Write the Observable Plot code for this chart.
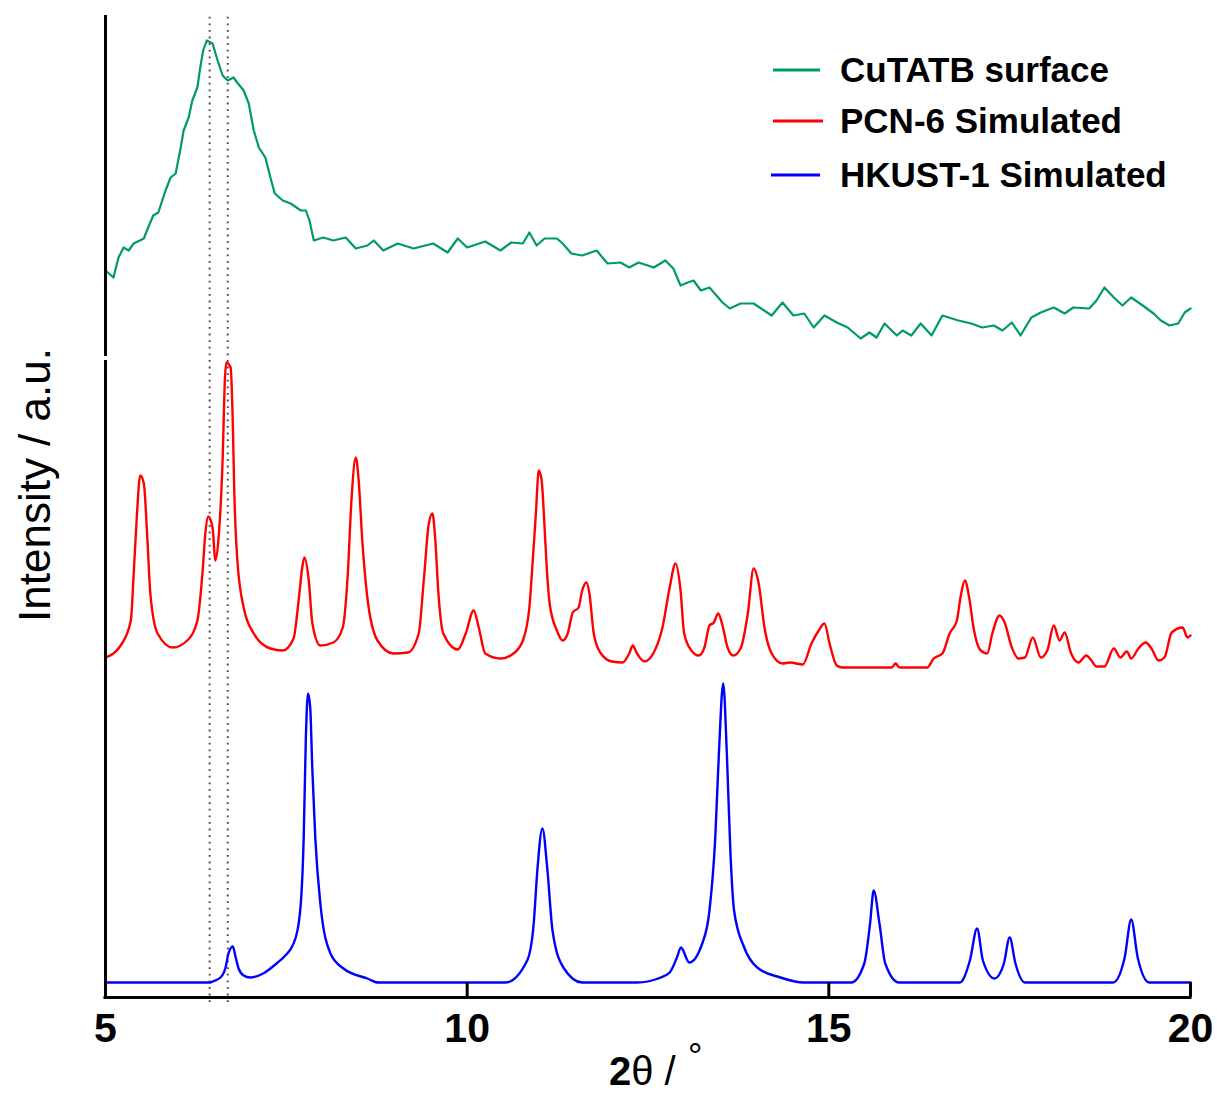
<!DOCTYPE html>
<html>
<head>
<meta charset="utf-8">
<script src="https://cdn.jsdelivr.net/npm/d3@7"></script>
<script src="https://cdn.jsdelivr.net/npm/@observablehq/plot@0.6"></script>
<style>
  html, body { margin: 0; padding: 0; background: #fff; }
  #chart { position: relative; width: 1217px; height: 1093px; }
</style>
</head>
<body>
<div id="chart"></div>
<script>
// ---- Data (2θ in degrees, intensity in arbitrary units incl. vertical offset) ----
const seriesNames = ["CuTATB surface", "PCN-6 Simulated", "HKUST-1 Simulated"];
const seriesColors = ["#00996a", "#ff0000", "#0000ff"];
const xTicks = [5, 10, 15, 20];
const refLines = [6.44, 6.69];

const cutatb = [
[5.00,727],[5.11,720],[5.18,740],[5.25,750],[5.32,747],[5.39,754],[5.53,759],[5.59,770],[5.66,782],[5.73,785],
[5.83,807],[5.90,820],[5.97,824],[6.04,850],[6.08,867],[6.15,880],[6.20,897],[6.27,910],[6.31,930],[6.35,947],
[6.40,957],[6.48,954],[6.55,937],[6.62,922],[6.69,917],[6.77,920],[6.82,915],[6.91,907],[6.98,894],[7.05,867],
[7.12,850],[7.21,840],[7.28,820],[7.34,804],[7.45,797],[7.56,794],[7.70,787],[7.77,787],[7.82,777],[7.88,757],
[8.01,760],[8.15,757],[8.32,760],[8.46,749],[8.62,752],[8.71,757],[8.84,747],[9.04,754],[9.26,749],[9.53,754],
[9.73,745],[9.87,759],[10.00,750],[10.25,756],[10.46,747],[10.61,755],[10.77,754],[10.86,765],[10.96,752],[11.07,759],
[11.24,759],[11.32,754],[11.44,744],[11.59,742],[11.79,747],[11.94,734],[12.12,735],[12.24,730],[12.37,735],[12.58,730],
[12.74,737],[12.85,729],[12.95,712],[13.05,715],[13.13,717],[13.23,707],[13.35,710],[13.53,695],[13.63,689],[13.78,694],
[13.96,694],[14.21,682],[14.36,695],[14.51,682],[14.66,684],[14.79,670],[14.94,682],[15.11,675],[15.26,670],[15.44,659],
[15.56,665],[15.66,660],[15.77,674],[15.94,662],[16.02,667],[16.14,662],[16.27,674],[16.42,662],[16.57,682],[16.79,677],
[16.97,674],[17.12,670],[17.28,672],[17.40,667],[17.53,675],[17.65,662],[17.80,680],[17.93,685],[18.11,690],[18.26,684],
[18.38,690],[18.60,689],[18.70,697],[18.81,710],[18.94,700],[19.06,692],[19.18,700],[19.34,692],[19.49,684],[19.59,677],
[19.71,672],[19.83,674],[19.92,685],[20.00,689]
];

const pcn6 = [
[5.00,340],[5.21,352],[5.35,377],[5.39,424],[5.43,477],[5.48,522],[5.53,514],[5.58,457],[5.62,404],[5.72,364],
[5.93,350],[6.13,357],[6.27,377],[6.34,424],[6.38,464],[6.42,481],[6.48,470],[6.52,437],[6.56,457],[6.62,540],
[6.65,617],[6.67,635],[6.73,630],[6.76,574],[6.78,507],[6.82,440],[6.91,390],[7.05,364],[7.28,349],[7.45,347],
[7.60,359],[7.67,397],[7.72,430],[7.75,440],[7.81,417],[7.86,374],[7.97,352],[8.15,355],[8.28,370],[8.35,424],
[8.40,497],[8.46,540],[8.50,517],[8.55,457],[8.62,400],[8.76,357],[8.98,344],[9.18,345],[9.33,364],[9.40,417],
[9.47,474],[9.52,484],[9.56,457],[9.60,407],[9.67,364],[9.87,348],[9.98,364],[10.09,387],[10.16,370],[10.25,344],
[10.46,339],[10.64,344],[10.77,357],[10.86,390],[10.90,430],[10.95,484],[10.99,527],[11.03,517],[11.06,484],[11.10,430],
[11.14,394],[11.24,367],[11.32,357],[11.39,364],[11.46,385],[11.54,390],[11.59,407],[11.65,415],[11.69,404],[11.75,364],
[11.84,345],[12.00,336],[12.15,335],[12.24,344],[12.29,352],[12.34,345],[12.45,336],[12.58,345],[12.70,370],[12.80,410],
[12.88,434],[12.95,407],[13.00,364],[13.10,347],[13.20,342],[13.28,350],[13.35,372],[13.41,375],[13.47,384],[13.53,372],
[13.60,350],[13.68,342],[13.78,349],[13.88,384],[13.96,429],[14.03,414],[14.11,370],[14.21,344],[14.36,334],[14.46,335],
[14.64,333],[14.76,354],[14.86,367],[14.94,374],[15.01,354],[15.11,332],[15.19,330],[15.87,330],[15.92,334],[15.98,330],
[16.36,330],[16.45,339],[16.57,344],[16.67,364],[16.77,377],[16.82,400],[16.88,417],[16.94,400],[17.00,370],[17.10,347],
[17.19,344],[17.26,364],[17.36,382],[17.43,375],[17.53,350],[17.62,339],[17.71,340],[17.82,360],[17.93,340],[18.02,347],
[18.11,372],[18.19,357],[18.26,365],[18.35,344],[18.45,335],[18.56,342],[18.63,337],[18.70,331],[18.81,331],[18.94,349],
[19.03,340],[19.12,346],[19.18,339],[19.28,349],[19.38,355],[19.46,349],[19.56,337],[19.64,340],[19.74,365],[19.89,370],
[19.96,360],[20.00,362]
];

const hkust1 = [
[5.00,15],[6.45,15],[6.48,16],[6.59,20],[6.66,30],[6.70,44],[6.76,51],[6.80,40],[6.84,29],[6.91,22],
[7.00,20],[7.18,24],[7.38,35],[7.46,40],[7.63,60],[7.70,94],[7.74,160],[7.77,260],[7.80,304],[7.83,290],
[7.86,227],[7.90,160],[7.97,94],[8.11,44],[8.29,29],[8.62,19],[8.77,15],[10.53,15],[10.83,37],[10.92,74],
[10.97,127],[11.04,169],[11.11,127],[11.18,67],[11.33,30],[11.59,15],[12.35,15],[12.64,19],[12.80,25],[12.90,40],
[12.955,50],[13.07,35],[13.25,54],[13.35,87],[13.43,160],[13.48,244],[13.54,314],[13.59,244],[13.64,144],[13.69,87],
[13.83,50],[14.01,30],[14.33,20],[14.65,15],[15.31,15],[15.49,34],[15.57,74],[15.62,107],[15.70,74],[15.78,34],
[15.97,15],[16.81,15],[16.95,37],[17.05,69],[17.13,37],[17.29,19],[17.42,34],[17.50,60],[17.58,34],[17.71,15],
[18.93,15],[19.09,40],[19.18,78],[19.27,40],[19.43,15],[20.00,15]
];

const toRows = (arr) => arr.map(([x, y]) => ({x, y}));

const FONT = "'Liberation Sans', Arial, Helvetica, sans-serif";

const plot = Plot.plot({
  width: 1217,
  height: 1093,
  marginLeft: 105,
  marginRight: 27,
  marginTop: 15,
  marginBottom: 96,
  style: {fontFamily: FONT, background: "#fff", overflow: "visible"},
  x: {domain: [5, 20]},
  y: {domain: [0, 982], axis: null},
  marks: [
    Plot.ruleX(refLines, {x: d => d, y1: -5, y2: 984, stroke: "#5a4444", strokeWidth: 2, strokeDasharray: "1.8,4.8"}),
    Plot.line(toRows(cutatb), {x: "x", y: "y", stroke: seriesColors[0], strokeWidth: 2.2}),
    Plot.line(toRows(pcn6), {x: "x", y: "y", stroke: seriesColors[1], strokeWidth: 2.4, curve: "monotone-x"}),
    Plot.line(toRows(hkust1), {x: "x", y: "y", stroke: seriesColors[2], strokeWidth: 2.4, curve: "monotone-x"}),
    // axes
    Plot.ruleX([{a: 0, b: 637}, {a: 641, b: 982}], {x: () => 5, y1: "a", y2: "b", stroke: "#000", strokeWidth: 3}),
    Plot.ruleY([0], {x1: 5, x2: 20, stroke: "#000", strokeWidth: 3, strokeLinecap: "square"}),
    Plot.ruleX(xTicks.slice(1), {x: d => d, y1: 0, y2: 15, stroke: "#000", strokeWidth: 3}),
    Plot.axisX({ticks: xTicks, tickFormat: d => String(d), tickSize: 0, tickPadding: 15, label: null,
                fontSize: 41, fontWeight: "bold", fill: "#000"})
  ]
});

const svg = d3.select(plot);

// Legend
const legendRows = [
  {name: seriesNames[0], color: seriesColors[0], ly: 70, ty: 82, x1: 773, x2: 820},
  {name: seriesNames[1], color: seriesColors[1], ly: 121, ty: 133, x1: 773, x2: 823},
  {name: seriesNames[2], color: seriesColors[2], ly: 175, ty: 187, x1: 771, x2: 820}
];
const lg = svg.append("g");
legendRows.forEach(r => {
  lg.append("line").attr("x1", r.x1).attr("x2", r.x2).attr("y1", r.ly).attr("y2", r.ly)
    .attr("stroke", r.color).attr("stroke-width", 3);
  lg.append("text").attr("x", 840).attr("y", r.ty).attr("text-anchor", "start")
    .attr("font-family", FONT).attr("font-size", 35).attr("font-weight", "bold").attr("fill", "#000")
    .text(r.name);
});

// X axis label: 2θ / °
const xl = svg.append("text").attr("x", 609).attr("y", 1085).attr("text-anchor", "start")
  .attr("font-family", FONT).attr("font-size", 40).attr("fill", "#000");
xl.append("tspan").attr("font-weight", "bold").text("2");
xl.append("tspan").attr("font-weight", "normal").text("θ /");
svg.append("text").attr("x", 688).attr("y", 1069).attr("text-anchor", "start")
  .attr("font-family", FONT).attr("font-size", 36).attr("fill", "#000").text("°");

// Y axis label
svg.append("text").attr("transform", "translate(50,485) rotate(-90)").attr("text-anchor", "middle")
  .attr("font-family", FONT).attr("font-size", 44).attr("fill", "#000").text("Intensity / a.u.");

document.getElementById("chart").appendChild(plot);
</script>
</body>
</html>
